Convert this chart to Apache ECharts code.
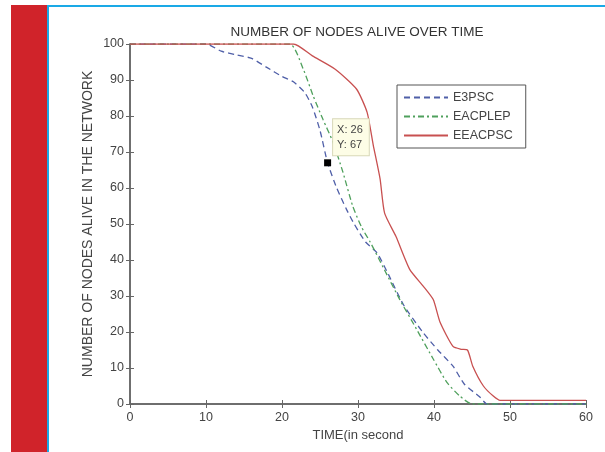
<!DOCTYPE html>
<html>
<head>
<meta charset="utf-8">
<script src="https://cdn.jsdelivr.net/npm/echarts@6/dist/echarts.min.js"></script>
<style>
  html, body { margin: 0; padding: 0; background: #fff; }
  #chart { width: 605px; height: 452px; }
</style>
</head>
<body>
<div id="chart"></div>
<script>
// 数据
const e3pscTime = [0, 10, 12, 14, 16, 18, 20, 21.5, 23, 24, 25, 26, 27.2, 28.5, 29.5, 31, 32.5, 34, 36, 38.5, 40.5, 42.5, 44, 46, 47, 60];
const e3pscAlive = [100, 100, 98, 97, 96, 93.5, 91, 89.5, 86.5, 82.5, 76, 67, 60, 54, 50, 45, 42, 36, 27.5, 20, 15, 10.5, 5.5, 2, 0, 0];

const eacplepTime = [0, 21, 22.8, 24.1, 25.4, 26.7, 28, 29.3, 30.5, 31.6, 33.3, 35.5, 37.7, 39.9, 41.7, 43.4, 45, 60];
const eacplepAlive = [100, 100, 93, 85.6, 79, 72.8, 64.5, 55, 49, 45, 38, 29, 20.8, 12.5, 6, 2.2, 0, 0];

const eeacpscTime = [0, 21.5, 24, 27, 29.8, 31.2, 32, 32.9, 33.5, 35, 36.8, 38.6, 39.9, 40.8, 42.5, 43.6, 44.4, 45.1, 46.5, 47.8, 48.7, 60];
const eeacpscAlive = [100, 100, 96.7, 93, 87.5, 81, 72, 62.6, 53, 46.5, 37.4, 32.7, 29, 22.7, 16, 15.2, 15, 10.5, 5, 2.2, 1, 1];

const dataTip = [26, 67];

const pairs = (xs, ys) => xs.map((x, i) => [x, ys[i]]);

const axisColor = "#666";
const labelStyle = { color: "#444", fontSize: 12.5, fontFamily: "Liberation Sans" };

const myChart = echarts.init(document.getElementById("chart"));

const option = {
    animation: false,
    backgroundColor: "#fff",
    textStyle: { fontFamily: "Liberation Sans" },
    // 页面边框装饰
    graphic: [
        { type: "rect", z: -10, shape: { x: 11, y: 5, width: 36, height: 447 }, style: { fill: "#d0232a" } },
        { type: "rect", z: -10, shape: { x: 47, y: 5, width: 2, height: 447 }, style: { fill: "#1aa9e6" } },
        { type: "rect", z: -10, shape: { x: 47, y: 5, width: 558, height: 2 }, style: { fill: "#1aa9e6" } },
    ],
    title: {
        text: "NUMBER OF NODES ALIVE OVER TIME",
        left: 352,
        textAlign: "center",
        top: 20,
        textStyle: { fontSize: 13.5, fontWeight: "normal", color: "#333", fontFamily: "Liberation Sans" },
    },
    grid: { left: 130, right: 19, top: 44, bottom: 48 },
    legend: {
        orient: "vertical",
        left: 397,
        top: 85,
        itemWidth: 44,
        itemHeight: 10,
        itemGap: 6,
        padding: [6, 13, 6, 6],
        borderColor: "#555",
        borderWidth: 1,
        backgroundColor: "#fff",
        itemStyle: { opacity: 0 },
        textStyle: { fontSize: 12.5, color: "#444" },
        data: ["E3PSC", "EACPLEP", "EEACPSC"],
    },
    xAxis: [
        {
            type: "value",
            min: 0,
            max: 60,
            interval: 10,
            name: "TIME(in second",
            nameLocation: "middle",
            nameGap: 25,
            nameTextStyle: { fontSize: 13, color: "#444" },
            axisLine: { lineStyle: { color: axisColor, width: 1.5 } },
            axisTick: { inside: true, length: 4, lineStyle: { color: axisColor } },
            axisLabel: Object.assign({ margin: 7 }, labelStyle),
            splitLine: { show: false },
        },
        {
            type: "value",
            position: "top",
            min: 0,
            max: 60,
            interval: 10,
            axisLine: { lineStyle: { color: axisColor, width: 1.5 } },
            axisTick: { inside: true, length: 4, lineStyle: { color: axisColor } },
            axisLabel: { show: false },
            splitLine: { show: false },
        },
    ],
    yAxis: [
        {
            type: "value",
            position: "left",
            min: 0,
            max: 100,
            interval: 10,
            name: "NUMBER OF NODES ALIVE IN THE NETWORK",
            nameLocation: "middle",
            nameGap: 35,
            nameMoveOverlap: false,
            nameTextStyle: { fontSize: 14, color: "#444" },
            axisLine: { show: true, lineStyle: { color: axisColor, width: 1.5 } },
            axisTick: { show: true, inside: true, length: 4, lineStyle: { color: axisColor } },
            axisLabel: Object.assign({ margin: 6 }, labelStyle),
            splitLine: { show: false },
        },
        {
            type: "value",
            position: "right",
            min: 0,
            max: 100,
            interval: 10,
            axisLine: { show: true, lineStyle: { color: axisColor, width: 1.5 } },
            axisTick: { show: true, inside: true, length: 4, lineStyle: { color: axisColor } },
            axisLabel: { show: false },
            splitLine: { show: false },
        },
    ],
    series: [
        {
            name: "E3PSC",
            type: "line",
            data: pairs(e3pscTime, e3pscAlive),
            showSymbol: false,
            symbol: "none",
            smooth: 0.2,
            color: "#4f5fa8",
            lineStyle: { color: "#4f5fa8", width: 1.3, type: [6, 4] },
            markPoint: {
                symbol: "rect",
                symbolSize: 7,
                itemStyle: { color: "#000" },
                data: [
                    {
                        coord: dataTip,
                        label: {
                            show: true,
                            formatter: "X: " + dataTip[0] + "\nY: " + dataTip[1],
                            position: [9, -40],
                            align: "left",
                            verticalAlign: "top",
                            fontSize: 11,
                            lineHeight: 15,
                            color: "#444",
                            backgroundColor: "#fdfde6",
                            borderColor: "#d8d8b8",
                            borderWidth: 1,
                            padding: [3, 6, 3, 4],
                        },
                    },
                ],
            },
        },
        {
            name: "EACPLEP",
            type: "line",
            data: pairs(eacplepTime, eacplepAlive),
            showSymbol: false,
            symbol: "none",
            smooth: 0.2,
            color: "#4fa05c",
            lineStyle: { color: "#4fa05c", width: 1.3, type: [6, 3, 2, 3] },
        },
        {
            name: "EEACPSC",
            type: "line",
            data: pairs(eeacpscTime, eeacpscAlive),
            showSymbol: false,
            symbol: "none",
            smooth: 0.2,
            color: "#c85050",
            lineStyle: { color: "#c85050", width: 1.3 },
        },
    ],
};

myChart.setOption(option);
</script>
</body>
</html>
